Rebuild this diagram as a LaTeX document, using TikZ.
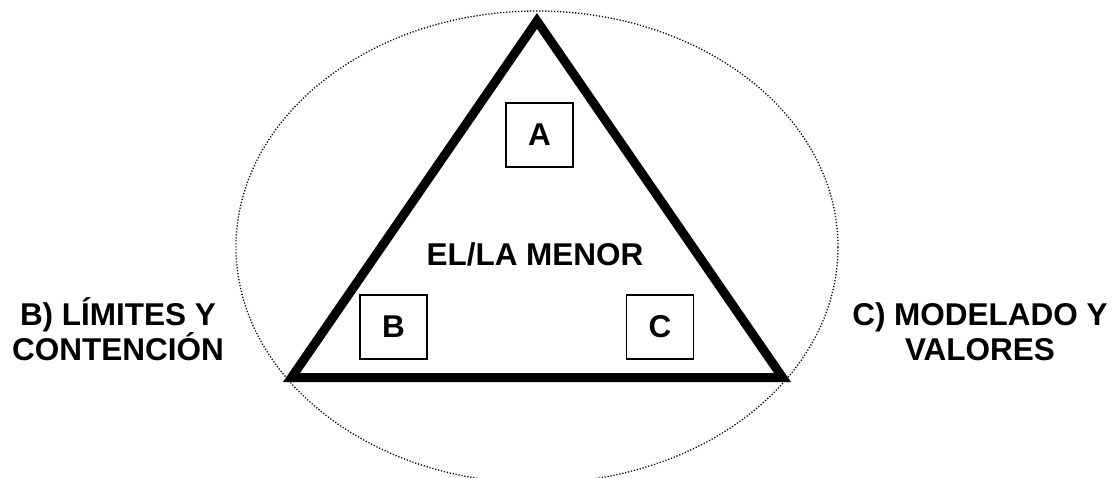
\documentclass[tikz,border=0pt]{standalone}
\usepackage{fontspec}
\setmainfont{Liberation Sans}
\begin{document}
\begin{tikzpicture}[x=1pt,y=-1pt,
  every node/.style={font=\bfseries\fontsize{31.5}{35}\selectfont,inner sep=0pt},
  corner/.style={draw,line width=1.5pt,minimum width=67pt,minimum height=64pt},
  side/.style={align=center,anchor=base}]
  \useasboundingbox (0,0) rectangle (1113,477);
  % outer dotted ring
  \coordinate (mid) at (537,247);
  \draw[line width=1.3pt,dash pattern=on 1.2pt off 1.8pt] (mid) ellipse [x radius=301pt,y radius=236pt];
  % triangle
  \coordinate (apex) at (537,21);
  \coordinate (bl) at (291.5,377.5);
  \coordinate (br) at (782.5,377.5);
  \draw[line width=9pt,line join=miter] (apex) -- (br) -- (bl) -- cycle;
  \node[corner] (a) at (539.5,135) {A};
  \node[corner] (b) at (393.5,327) {B};
  \node[corner] (c) at (660,327) {C};
  \node[anchor=base] (menor) at (535,265) {EL/LA MENOR};
  \node[side] (lim) at (118,360) {B) LÍMITES Y\\CONTENCIÓN};
  \node[side] (mod) at (980,360) {C) MODELADO Y\\VALORES};
\end{tikzpicture}
\end{document}
